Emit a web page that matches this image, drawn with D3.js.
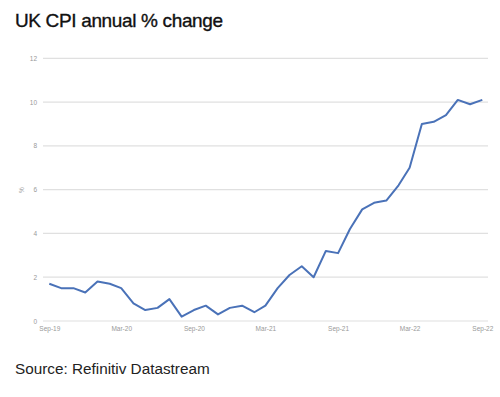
<!DOCTYPE html>
<html>
<head>
<meta charset="utf-8">
<script src="https://cdn.jsdelivr.net/npm/d3@7"></script>
<style>
  body { margin: 0; background: #fff; }
  text { font-family: "Liberation Sans", Arial, sans-serif; }
</style>
</head>
<body>
<div id="chart"></div>
<script>
// months Sep-19 .. Sep-22
const months = ["2019-09","2019-10","2019-11","2019-12","2020-01","2020-02","2020-03","2020-04","2020-05","2020-06","2020-07","2020-08",
  "2020-09","2020-10","2020-11","2020-12","2021-01","2021-02","2021-03","2021-04","2021-05","2021-06","2021-07","2021-08",
  "2021-09","2021-10","2021-11","2021-12","2022-01","2022-02","2022-03","2022-04","2022-05","2022-06","2022-07","2022-08","2022-09"];
const cpi = [1.7,1.5,1.5,1.3,1.8,1.7,1.5,0.8,0.5,0.6,1.0,0.2,
  0.5,0.7,0.3,0.6,0.7,0.4,0.7,1.5,2.1,2.5,2.0,3.2,
  3.1,4.2,5.1,5.4,5.5,6.2,7.0,9.0,9.1,9.4,10.1,9.9,10.1];
const yTicks = [0,2,4,6,8,10,12];
const xTickMonths = ["2019-09","2020-03","2020-09","2021-03","2021-09","2022-03","2022-09"];

const width = 500, height = 397;
const parse = d3.timeParse("%Y-%m");
const data = months.map((m, i) => ({ date: parse(m), value: cpi[i] }));

const svg = d3.select('#chart').append('svg')
    .attr('width', width)
    .attr('height', height);

let x = d3.scaleTime()
    .domain(d3.extent(data, d => d.date))
    .range([49.3, 482.3]);

let y = d3.scaleLinear()
    .domain([0, 12])
    .range([321, 58.3]);

// gridlines
svg.append('g')
    .selectAll('line')
    .data(yTicks)
    .enter()
    .append('line')
    .attr('x1', 43)
    .attr('x2', 488)
    .attr('y1', d => y(d))
    .attr('y2', d => y(d))
    .attr('stroke', '#e0e0e0')
    .attr('stroke-width', 1.2);

// y axis labels
let yAxis = svg.append('g')
    .attr('transform', 'translate(37,0)')
    .call(d3.axisLeft(y).tickValues(yTicks).tickSize(0).tickPadding(0));
yAxis.select('.domain').remove();
yAxis.selectAll('text')
    .attr('fill', '#999')
    .style('font-size', '6.5px');

// x axis labels
let xAxis = svg.append('g')
    .attr('transform', 'translate(0,326)')
    .call(d3.axisBottom(x)
        .tickValues(xTickMonths.map(parse))
        .tickFormat(d3.timeFormat('%b-%y'))
        .tickSize(0)
        .tickPadding(0));
xAxis.select('.domain').remove();
xAxis.selectAll('text')
    .attr('fill', '#999')
    .attr('dy', '0.71em')
    .style('font-size', '6.5px');

// % label
svg.append('text')
    .attr('transform', 'translate(22,190) rotate(-90)')
    .attr('text-anchor', 'middle')
    .attr('dy', '0.35em')
    .attr('fill', '#999')
    .style('font-size', '6.5px')
    .text('%');

// line
let line = d3.line()
    .x(d => x(d.date))
    .y(d => y(d.value));

svg.append('path')
    .datum(data)
    .attr('d', line)
    .attr('fill', 'none')
    .attr('stroke', '#4a72b8')
    .attr('stroke-width', 2)
    .attr('stroke-linejoin', 'round');

// title
svg.append('text')
    .attr('x', 15)
    .attr('y', 27)
    .attr('fill', '#111')
    .attr('stroke', '#111')
    .attr('stroke-width', 0.35)
    .style('font-size', '19px')
    .style('letter-spacing', '-0.35px')
    .text('UK CPI annual % change');

// source
svg.append('text')
    .attr('x', 15)
    .attr('y', 374)
    .attr('fill', '#222')
    .style('font-size', '15.3px')
    .text('Source: Refinitiv Datastream');
</script>
</body>
</html>
